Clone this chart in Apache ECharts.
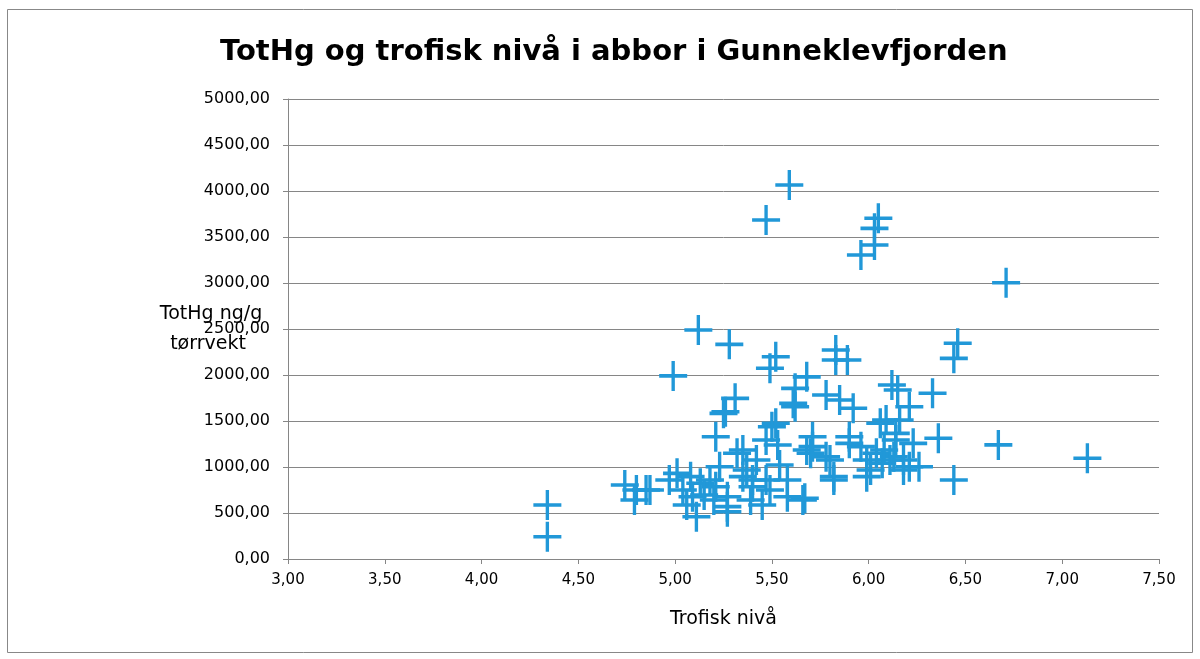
<!DOCTYPE html>
<html>
<head>
<meta charset="utf-8">
<script src="https://cdn.jsdelivr.net/npm/echarts@6/dist/echarts.min.js"></script>
<style>html,body{margin:0;padding:0;background:#fff;}#c{width:1200px;height:659px;}</style>
</head>
<body>
<div id="c"></div>
<script>
const trofiskNiva = [
 4.34,4.34,5.59,5.47,6.05,6.03,6.03,5.96,6.71,5.12,5.28,4.99,5.52,5.49,5.83,5.83,5.89,6.46,6.44,5.68,
 5.62,5.31,5.26,5.62,5.78,5.85,5.92,5.52,6.12,6.15,6.33,6.21,6.36,6.67,6.16,6.06,5.71,5.90,5.96,6.04,
 6.13,6.18,5.68,5.78,5.82,6.01,6.07,6.21,6.44,5.67,6.14,5.21,5.50,5.47,5.35,5.32,5.70,4.85,4.97,5.01,
 5.08,5.13,5.18,5.04,5.09,5.11,5.27,5.27,5.35,5.40,5.47,5.37,5.58,5.66,5.23,5.21,4.74,4.80,4.87,4.79,
 5.25,5.27,5.61,5.71,5.80,5.90,5.99,6.11,6.18,6.26,5.99,5.82,6.09,6.14,6.23,6.08,5.40,5.42,5.49,5.54,
 5.39,5.45,5.58,5.53,5.15,5.20,5.06,7.13
];
const totHg = [
 587,242,4065,3685,3703,3594,3413,3304,3003,2489,2333,1990,2199,2073,2272,2163,2163,2345,2181,1980,
 1855,1746,1601,1655,1783,1728,1638,1475,1891,1837,1801,1655,1312,1240,1511,1475,1329,1329,1221,1149,
 1112,1076,1185,1112,895,967,1040,1003,859,660,1293,1329,1438,1293,1185,1149,1149,750,859,931,
 895,823,859,750,677,460,677,569,895,786,859,967,677,641,1003,786,804,750,750,641,
 1583,514,1692,1221,1076,1257,1076,1076,967,1003,895,859,1511,1366,1257,1185,859,1076,750,1022,
 641,587,859,1239,696,641,587,1095
];
const xTicks = { min: 3, max: 7.5, step: 0.5 };
const yTicks = { min: 0, max: 5000, step: 500 };
const titleText = 'TotHg og trofisk nivå i abbor i Gunneklevfjorden';
const xName = 'Trofisk nivå';
const yName = ['TotHg ng/g', 'tørrvekt'];

const points = trofiskNiva.map((x, i) => [x, totHg[i]]);
const fmt = v => v.toFixed(2).replace('.', ',');
const FONT = 'DejaVu Sans';
const chart = echarts.init(document.getElementById('c'), null, { renderer: 'canvas' });
chart.setOption({
  animation: false,
  backgroundColor: '#fff',
  title: {
    text: titleText, left: 215, top: 33,
    textStyle: { fontFamily: FONT, fontWeight: 'bold', fontSize: 29, color: '#000' }
  },
  grid: { left: 288, right: 41, top: 99, bottom: 100, containLabel: false },
  xAxis: {
    type: 'value', min: xTicks.min, max: xTicks.max, interval: xTicks.step,
    name: xName, nameLocation: 'middle', nameGap: 51,
    nameTextStyle: { fontFamily: FONT, fontSize: 19, color: '#000' },
    axisLine: { show: true, onZero: false, lineStyle: { color: '#868686', width: 1 } },
    axisTick: { show: true, inside: false, length: 5, lineStyle: { color: '#868686' } },
    axisLabel: { formatter: fmt, fontFamily: FONT, fontSize: 15, color: '#000', margin: 14 },
    splitLine: { show: false }
  },
  yAxis: {
    type: 'value', min: yTicks.min, max: yTicks.max, interval: yTicks.step,
    axisLine: { show: true, lineStyle: { color: '#868686', width: 1 } },
    axisTick: { show: true, inside: false, length: 5, lineStyle: { color: '#868686' } },
    axisLabel: { formatter: fmt, fontFamily: FONT, fontSize: 16, color: '#000', margin: 18 },
    splitLine: { show: true, lineStyle: { color: '#868686', width: 1 } }
  },
  graphic: [
    { type: 'rect', shape: { x: 7.5, y: 9.5, width: 1185, height: 643 },
      style: { fill: 'none', stroke: '#888', lineWidth: 1 }, silent: true, z: -10 },
    { type: 'text', x: 211, y: 314, style: { text: yName[0], font: '19px "DejaVu Sans"', fill: '#000', textAlign: 'center', textVerticalAlign: 'middle' } },
    { type: 'text', x: 208, y: 344, style: { text: yName[1], font: '19px "DejaVu Sans"', fill: '#000', textAlign: 'center', textVerticalAlign: 'middle' } }
  ],
  series: [{
    type: 'scatter',
    data: points,
    symbol: 'path://M4.4,0h1.2v4.4h4.4v1.2h-4.4v4.4h-1.2v-4.4h-4.4v-1.2h4.4z',
    symbolSize: [28, 30],
    itemStyle: { color: '#2198d8', opacity: 1 }
  }]
});
</script>
</body>
</html>
